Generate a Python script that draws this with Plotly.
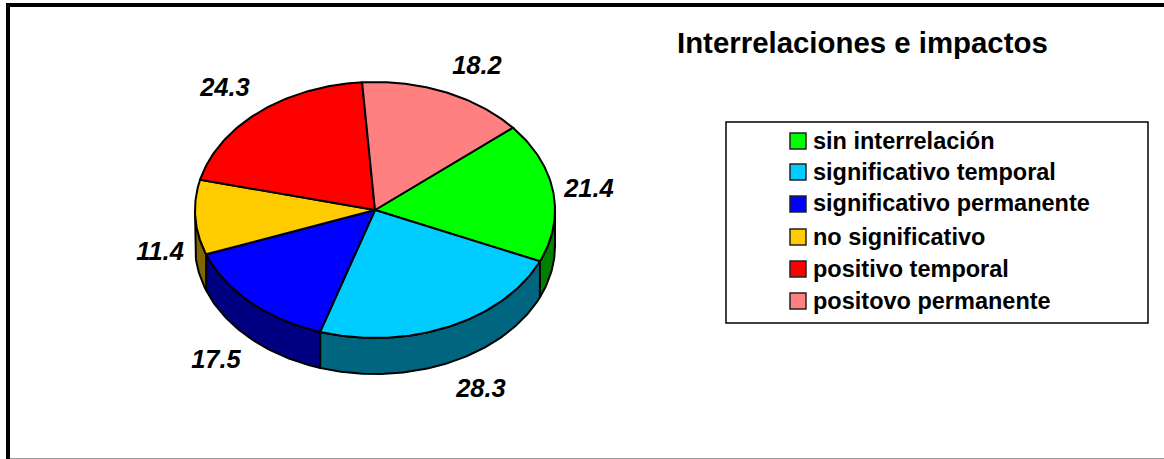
import numpy as np
import plotly.graph_objects as go

# Chart content
title = "Interrelaciones e impactos"
categories = ["sin interrelación", "significativo temporal", "significativo permanente",
              "no significativo", "positivo temporal", "positovo permanente"]
values = [21.4, 28.3, 17.5, 11.4, 24.3, 18.2]

# Styling
top_colors = ["#00FF00", "#00CCFF", "#0000FF", "#FFCC00", "#FF0000", "#FF8080"]
side_colors = ["#008000", "#006680", "#000080", "#806600", "#800000", "#804040"]
FONT = "Liberation Sans"

# Pie geometry in page pixels: tilted disc seen as an ellipse with a rim below it
CX, CY, RX, RY, DEPTH = 375, 210, 180, 128, 36
START_DEG = 50
value_label_pos = [(589, 191), (481, 391), (216, 362), (160, 254), (225, 90), (477, 68)]

# Legend layout
BOX = (726, 122, 1148, 323)
SWATCH_X, TEXT_X = 798, 813
legend_rows = [141, 172, 204, 237, 269, 301]
legend_text_rows = [143, 174, 205, 239, 271, 303]


def arc(a0, a1, dy=0.0):
    """Points along the rim between two clockwise-from-north angles in degrees."""
    n = max(2, int(abs(a1 - a0)) + 2)
    t = np.radians(np.linspace(a0, a1, n))
    return CX + RX * np.sin(t), CY + dy - RY * np.cos(t)


fig = go.Figure()
spans = np.array(values) / sum(values) * 360
edges = START_DEG + np.concatenate([[0], np.cumsum(spans)])

# Rim: only the part of each slice facing the viewer (90° to 270°)
for i, name in enumerate(categories):
    a0, a1 = max(edges[i], 90), min(edges[i + 1], 270)
    if a1 <= a0:
        continue
    xt, yt = arc(a0, a1)
    xb, yb = arc(a1, a0, DEPTH)
    fig.add_trace(go.Scatter(
        x=np.concatenate([xt, xb, xt[:1]]), y=np.concatenate([yt, yb, yt[:1]]),
        mode="lines", fill="toself", fillcolor=side_colors[i],
        line=dict(color="black", width=2), name=name, hoverinfo="skip",
    ))

# Top face
for i, name in enumerate(categories):
    xa, ya = arc(edges[i], edges[i + 1])
    fig.add_trace(go.Scatter(
        x=np.concatenate([[CX], xa, [CX]]), y=np.concatenate([[CY], ya, [CY]]),
        mode="lines", fill="toself", fillcolor=top_colors[i],
        line=dict(color="black", width=2), name=name,
        text=f"{name}: {values[i]}", hoverinfo="text",
    ))

# Value labels around the pie
fig.add_trace(go.Scatter(
    x=[p[0] for p in value_label_pos], y=[p[1] for p in value_label_pos],
    mode="text", text=[f"{v:.1f}" for v in values], textposition="middle center",
    textfont=dict(family=FONT, size=25.5, color="black", weight="bold", style="italic"),
    hoverinfo="skip",
))

# Legend swatches and entries
fig.add_trace(go.Scatter(
    x=[SWATCH_X] * len(categories), y=legend_rows, mode="markers",
    marker=dict(symbol="square", size=16, color=top_colors, line=dict(color="#222222", width=1.5)),
    hoverinfo="skip",
))
fig.add_trace(go.Scatter(
    x=[TEXT_X] * len(categories), y=legend_text_rows, mode="text", text=categories,
    textposition="middle right",
    textfont=dict(family=FONT, size=23.5, color="black", weight="bold"),
    hoverinfo="skip",
))

# Frame of the chart area and of the legend
fig.add_shape(type="rect", x0=BOX[0], y0=BOX[1], x1=BOX[2], y1=BOX[3],
              line=dict(color="black", width=1.5), layer="below")
fig.add_shape(type="line", x0=6, y0=5, x1=1164, y1=5, line=dict(color="black", width=4))
fig.add_shape(type="line", x0=8, y0=3, x1=8, y1=459, line=dict(color="black", width=4))
fig.add_shape(type="line", x0=10, y0=458.5, x1=1164, y1=458.5, line=dict(color="#999999", width=1))

fig.add_annotation(x=675, y=42.5, xref="x", yref="y", xanchor="left", yanchor="middle",
                   text=f"<b>{title}</b>", showarrow=False,
                   font=dict(family=FONT, size=29.4, color="black"))

fig.update_layout(
    width=1164, height=459, margin=dict(l=0, r=0, t=0, b=0),
    paper_bgcolor="white", plot_bgcolor="white", showlegend=False,
    xaxis=dict(range=[0, 1164], visible=False, fixedrange=True),
    yaxis=dict(range=[459, 0], visible=False, fixedrange=True),
)
fig.write_html("out.html", config=dict(displayModeBar=False))
